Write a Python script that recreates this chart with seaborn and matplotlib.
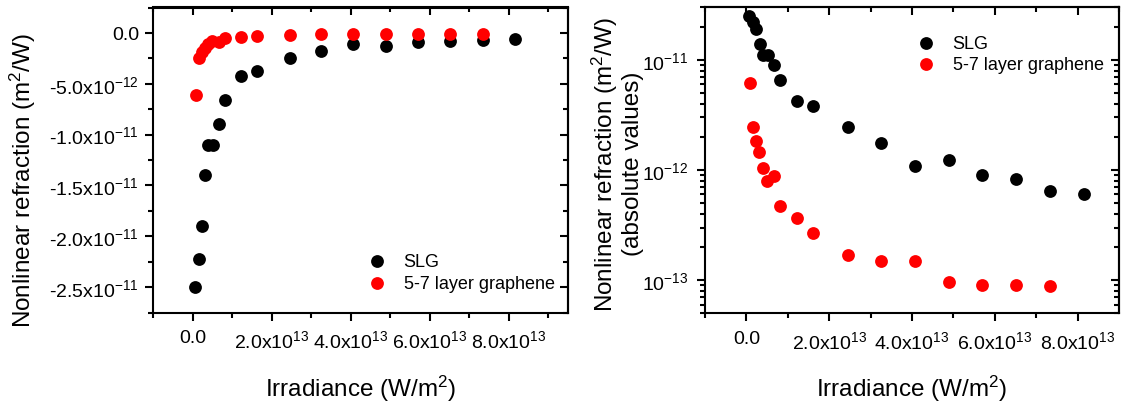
import numpy as np
import pandas as pd
import matplotlib
matplotlib.use("Agg")
import matplotlib.pyplot as plt
import seaborn as sns
from matplotlib.ticker import (FixedLocator, FuncFormatter, NullFormatter)

# Irradiance (W/m^2) and nonlinear refraction n2 (m^2/W)
slg_irradiance = [0.065e13, 0.16e13, 0.24e13, 0.32e13, 0.39e13, 0.52e13, 0.67e13,
                  0.81e13, 1.22e13, 1.62e13, 2.46e13, 3.26e13, 4.07e13, 4.90e13,
                  5.70e13, 6.52e13, 7.34e13, 8.16e13]
slg_n2 = [-2.50e-11, -2.22e-11, -1.90e-11, -1.40e-11, -1.10e-11, -1.10e-11,
          -9.0e-12, -6.6e-12, -4.25e-12, -3.78e-12, -2.44e-12, -1.75e-12,
          -1.08e-12, -1.24e-12, -0.90e-12, -0.83e-12, -0.65e-12, -0.60e-12]

fl_irradiance = [0.08e13, 0.16e13, 0.24e13, 0.31e13, 0.40e13, 0.49e13, 0.67e13,
                 0.81e13, 1.22e13, 1.62e13, 2.46e13, 3.26e13, 4.07e13, 4.90e13,
                 5.70e13, 6.52e13, 7.34e13]
fl_n2 = [-6.1e-12, -2.48e-12, -1.85e-12, -1.45e-12, -1.05e-12, -0.79e-12,
         -0.88e-12, -0.47e-12, -0.37e-12, -0.268e-12, -0.17e-12, -0.149e-12,
         -0.15e-12, -0.097e-12, -0.090e-12, -0.090e-12, -0.088e-12]

series_names = ["SLG", "5-7 layer graphene"]
series_colors = ["black", "red"]

# tick positions
x_major = [0, 2e13, 4e13, 6e13, 8e13]
x_minor = [-1e13, 1e13, 3e13, 5e13, 7e13, 9e13]
lin_y_major = [0.0, -5e-12, -1e-11, -1.5e-11, -2e-11, -2.5e-11]
lin_y_minor = [2.5e-12, -2.5e-12, -7.5e-12, -1.25e-11, -1.75e-11, -2.25e-11, -2.75e-11]
log_y_major = [1e-13, 1e-12, 1e-11]
log_y_minor = [m * 10.0 ** e for e in (-14, -13, -12, -11) for m in range(2, 10)
               if 5e-14 <= m * 10.0 ** e <= 3e-11]

sns.set_style("ticks")
plt.rcParams["font.family"] = ["Liberation Sans", "DejaVu Sans"]
plt.rcParams["mathtext.fontset"] = "custom"
plt.rcParams["mathtext.rm"] = "Liberation Sans"
plt.rcParams["mathtext.it"] = "Liberation Sans:italic"
plt.rcParams["mathtext.bf"] = "Liberation Sans:bold"
for key in ("text.color", "axes.labelcolor", "xtick.color", "ytick.color",
            "axes.edgecolor"):
    plt.rcParams[key] = "black"

LW = 1.5
TICK_FS = 14
LABEL_FS = 17.5
LEGEND_FS = 13
MARKER_S = 85


def sci_label(v, pos=None):
    if abs(v) < 1e-30:
        return "0.0"
    exp = int(np.floor(np.log10(abs(v)) + 1e-9))
    mant = v / 10.0 ** exp
    return f"{mant:.1f}x10$^{{{exp}}}$"


def log_label(v, pos=None):
    return f"10$^{{{int(round(np.log10(v)))}}}$"


def style_axes(ax, y_major, y_minor):
    for sp in ax.spines.values():
        sp.set_linewidth(LW)
        sp.set_visible(True)
    ax.tick_params(which="major", direction="out", length=6, width=LW,
                   labelsize=TICK_FS, color="black", labelcolor="black")
    ax.tick_params(which="minor", direction="out", length=3.5, width=LW,
                   color="black")
    ax.tick_params(axis="x", which="major", pad=6)
    # mirrored ticks pointing inwards on top and right
    top = ax.secondary_xaxis("top")
    top.xaxis.set_major_locator(FixedLocator(x_major))
    top.xaxis.set_minor_locator(FixedLocator(x_minor))
    top.xaxis.set_major_formatter(NullFormatter())
    top.xaxis.set_minor_formatter(NullFormatter())
    right = ax.secondary_yaxis("right")
    right.yaxis.set_major_locator(FixedLocator(y_major))
    right.yaxis.set_minor_locator(FixedLocator(y_minor))
    right.yaxis.set_major_formatter(NullFormatter())
    right.yaxis.set_minor_formatter(NullFormatter())
    for sec in (top, right):
        for sp in sec.spines.values():
            sp.set_linewidth(LW)
        sec.tick_params(which="major", direction="in", length=6, width=LW,
                        color="black")
        sec.tick_params(which="minor", direction="in", length=3.5, width=LW,
                        color="black")


fig = plt.figure(figsize=(11.26, 4.06), dpi=100)
fig.patch.set_facecolor("white")
ax1 = fig.add_axes([153 / 1126, 1 - 313.5 / 406, 415 / 1126, 305 / 406])
ax2 = fig.add_axes([705 / 1126, 1 - 314.3 / 406, 414 / 1126, 306 / 406])

left_df = pd.DataFrame({
    "irradiance": slg_irradiance + fl_irradiance,
    "n2": slg_n2 + fl_n2,
    "sample": [series_names[0]] * len(slg_n2) + [series_names[1]] * len(fl_n2),
})
right_df = left_df.assign(n2=np.abs(left_df["n2"]))

for ax, df in ((ax1, left_df), (ax2, right_df)):
    for name, col in zip(series_names, series_colors):
        sub = df[df["sample"] == name]
        sns.scatterplot(data=sub, x="irradiance", y="n2", color=col, s=MARKER_S,
                        linewidth=0, ax=ax, label=name, zorder=3)

# left panel: signed values
ax1.set_xlim(-1e13, 9.5e13)
ax1.set_ylim(-2.75e-11, 2.5e-12)
ax1.xaxis.set_major_locator(FixedLocator(x_major))
ax1.xaxis.set_minor_locator(FixedLocator(x_minor))
ax1.xaxis.set_major_formatter(FuncFormatter(sci_label))
ax1.yaxis.set_major_locator(FixedLocator(lin_y_major))
ax1.yaxis.set_minor_locator(FixedLocator(lin_y_minor))
ax1.yaxis.set_major_formatter(FuncFormatter(sci_label))
style_axes(ax1, lin_y_major, lin_y_minor)
ax1.tick_params(axis="y", which="major", pad=4)

# right panel: absolute values on a log scale
ax2.set_yscale("log")
ax2.set_xlim(-1e13, 9e13)
ax2.set_ylim(5e-14, 3e-11)
ax2.xaxis.set_major_locator(FixedLocator(x_major))
ax2.xaxis.set_minor_locator(FixedLocator(x_minor[:-1]))
ax2.xaxis.set_major_formatter(FuncFormatter(sci_label))
ax2.yaxis.set_major_locator(FixedLocator(log_y_major))
ax2.yaxis.set_minor_locator(FixedLocator(log_y_minor))
ax2.yaxis.set_major_formatter(FuncFormatter(log_label))
ax2.yaxis.set_minor_formatter(NullFormatter())
style_axes(ax2, log_y_major, log_y_minor)
ax2.tick_params(axis="y", which="major", pad=6)

ax1.set_xlabel("Irradiance (W/m$^2$)", fontsize=LABEL_FS)
ax1.set_ylabel("Nonlinear refraction (m$^2$/W)", fontsize=LABEL_FS)
ax2.set_xlabel("Irradiance (W/m$^2$)", fontsize=LABEL_FS)
ax2.set_ylabel("Nonlinear refraction (m$^2$/W)\n(absolute values)",
               fontsize=LABEL_FS, linespacing=1.12)
for ax in (ax1, ax2):
    ax.xaxis.label.set_verticalalignment("center")
    ax.yaxis.label.set_verticalalignment("center")
ax1.xaxis.set_label_coords(0.5, -0.246)
ax2.xaxis.set_label_coords(0.5, -0.2425)
ax1.yaxis.set_label_coords(-0.3145, 0.4377)
ax2.yaxis.set_label_coords(-0.2138, 0.491)

legend_kw = dict(frameon=False, fontsize=LEGEND_FS, handlelength=1.0,
                 handletextpad=1.0, labelspacing=0.25, borderpad=0,
                 borderaxespad=0, loc="upper left")
ax1.legend(bbox_to_anchor=(0.517, 0.195), **legend_kw)
ax2.legend(bbox_to_anchor=(0.511, 0.911), **legend_kw)

fig.savefig("out.png", dpi=100, facecolor="white")
